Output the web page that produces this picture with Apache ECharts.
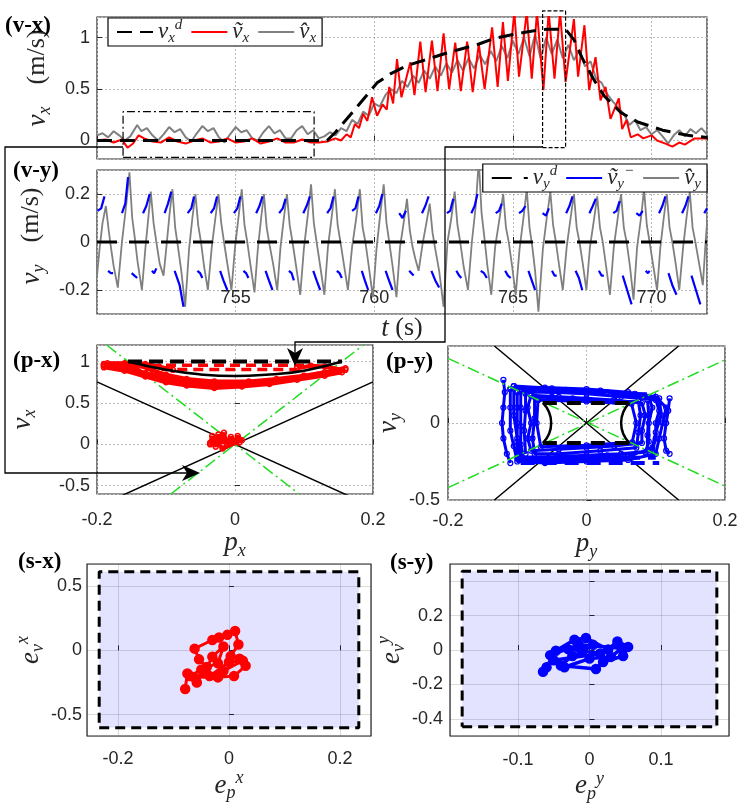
<!DOCTYPE html>
<html>
<head>
<meta charset="utf-8">
<script src="https://cdn.jsdelivr.net/npm/echarts@6/dist/echarts.min.js"></script>
<style>
html, body { margin: 0; padding: 0; background: #fff; }
#chart { width: 747px; height: 805px; }
</style>
</head>
<body>
<div id="chart"></div>
<script>
// ---- (v-x) desired / measured / estimated velocity, [t, v]
const vxDesired = [[750,0],[758.3,0],[758.6,0.08],[759.2,0.27],[759.7,0.43],[760.1,0.56],[760.6,0.65],[761.2,0.73],[761.8,0.78],[762.5,0.84],[763,0.88],[763.7,0.93],[764.3,0.99],[765,1.03],[765.6,1.06],[766.2,1.08],[766.9,1.08],[767.2,0.98],[767.5,0.8],[767.9,0.6],[768.3,0.43],[768.9,0.27],[769.5,0.18],[770.4,0.1],[771.3,0.05],[772,0.03]];
const vxMeas = [[750,0],[750.3,0.01],[750.6,-0.02],[750.9,0.01],[751.1,-0.07],[751.3,-0.03],[751.5,0.05],[751.7,0.02],[752,-0.01],[752.3,-0.02],[752.6,0.03],[752.9,-0.01],[753.2,-0.03],[753.5,0],[753.8,0.02],[754.1,-0.02],[754.4,-0.01],[754.7,0.02],[755,-0.02],[755.3,-0.01],[755.6,0.02],[755.9,-0.03],[756.2,-0.01],[756.5,0.02],[756.8,-0.02],[757.1,-0.02],[757.4,0.01],[757.7,-0.02],[758,-0.02],[758.3,-0.01],[758.6,0.02],[758.8,0.0],[759,0.06],[759.15,0.03],[759.3,0.16],[759.45,0.12],[759.6,0.26],[759.75,0.19],[759.92,0.42],[760.1,0.24],[760.3,0.35],[760.45,0.3],[760.54,0.52],[760.68,0.36],[760.82,0.79],[760.98,0.42],[761.3,0.76],[761.45,0.44],[761.66,0.96],[761.85,0.47],[762.08,0.97],[762.28,0.48],[762.5,1.04],[762.7,0.5],[762.92,0.95],[763.12,0.48],[763.35,0.96],[763.55,0.47],[763.77,0.94],[763.98,0.5],[764.25,1.1],[764.45,0.52],[764.64,1.15],[764.82,0.58],[765.05,1.25],[765.22,0.62],[765.5,1.25],[765.68,0.6],[765.87,1.25],[766.1,0.49],[766.29,1.25],[766.5,0.6],[766.7,1.25],[766.9,0.57],[767.2,1.18],[767.35,0.62],[767.58,1.12],[767.75,0.49],[767.98,0.81],[768.16,0.39],[768.34,0.52],[768.52,0.21],[768.82,0.41],[768.94,0.11],[769.1,0.2],[769.25,0.03],[769.5,0.06],[769.7,0.02],[770,0.05],[770.2,0.0],[770.5,-0.03],[770.75,-0.06],[771,-0.02],[771.2,-0.04],[771.55,0.02],[772,0.02]];
const vxEst = [[750,0.05],[750.2,0.07],[750.4,0.03],[750.6,0.09],[750.8,0.05],[751,0.0],[751.2,0.04],[751.45,0.15],[751.6,0.09],[751.8,0.12],[752,0.05],[752.2,0.0],[752.4,0.06],[752.6,0.13],[752.8,0.08],[753,0.11],[753.2,0.03],[753.4,-0.01],[753.6,0.07],[753.8,0.14],[754,0.09],[754.2,0.12],[754.4,0.03],[754.6,-0.02],[754.8,0.06],[755,0.13],[755.2,0.08],[755.4,0.1],[755.6,0.02],[755.8,0.0],[756,0.08],[756.2,0.14],[756.4,0.07],[756.6,0.1],[756.8,0.02],[757,0.02],[757.2,0.1],[757.4,0.14],[757.6,0.06],[757.8,0.1],[758,0.02],[758.2,0.04],[758.4,0.08],[758.6,0.05],[758.8,0.12],[759,0.09],[759.2,0.2],[759.4,0.16],[759.6,0.28],[759.8,0.24],[760,0.36],[760.2,0.33],[760.4,0.44],[760.6,0.5],[760.8,0.46],[761,0.58],[761.2,0.52],[761.4,0.63],[761.6,0.56],[761.8,0.68],[762,0.6],[762.2,0.72],[762.4,0.63],[762.6,0.75],[762.8,0.66],[763,0.78],[763.2,0.68],[763.4,0.8],[763.6,0.7],[763.8,0.83],[764,0.74],[764.2,0.87],[764.4,0.77],[764.6,0.92],[764.8,0.8],[765,0.97],[765.2,0.84],[765.4,1.0],[765.6,0.82],[765.8,1.03],[766,0.8],[766.2,1.0],[766.4,0.84],[766.6,0.98],[766.8,0.8],[767,0.93],[767.2,0.78],[767.4,0.88],[767.6,0.72],[767.8,0.77],[768,0.6],[768.2,0.56],[768.4,0.45],[768.6,0.38],[768.8,0.32],[769,0.26],[769.2,0.15],[769.4,0.2],[769.6,0.1],[769.8,0.13],[770,0.06],[770.2,0.1],[770.4,0.04],[770.6,-0.03],[770.8,0.05],[771,0.1],[771.2,0.04],[771.4,0.11],[771.6,0.07],[771.8,0.12],[772,0.06]];
// zoom boxes drawn on (v-x): [t0, t1, v0, v1]
const vxQuietBox = [750.94, 757.83, -0.165, 0.28];
const vxPeakBox = [766.07, 766.9, -0.07, 1.26];

// ---- (v-y)
const vyDesired = [[750,0],[772,0]];
const vyEst = [[750.0,-0.14],[750.1,-0.02],[750.2,0.08],[750.32,0.15],[750.42,0.05],[750.5,-0.02],[750.6,-0.1],[750.75,-0.19],
[750.9,0.0],[751.05,0.15],[751.17,0.29],[751.27,0.1],[751.36,0.02],[751.46,-0.08],[751.62,-0.2],
[751.75,-0.02],[751.85,0.1],[751.94,0.21],[752.04,0.08],[752.14,0.0],[752.26,-0.09],[752.4,-0.14],
[752.52,0.0],[752.62,0.12],[752.72,0.22],[752.82,0.06],[752.92,-0.02],[753.04,-0.12],[753.18,-0.27],
[753.32,-0.03],[753.44,0.1],[753.55,0.2],[753.65,0.07],[753.75,0.0],[753.86,-0.1],[754.0,-0.2],
[754.14,-0.02],[754.27,0.1],[754.38,0.2],[754.48,0.08],[754.58,0.0],[754.7,-0.09],[754.85,-0.2],
[754.98,-0.02],[755.1,0.1],[755.22,0.22],[755.32,0.07],[755.42,0.0],[755.54,-0.1],[755.68,-0.21],
[755.8,-0.03],[755.92,0.1],[756.02,0.2],[756.12,0.06],[756.22,-0.01],[756.35,-0.09],[756.5,-0.2],
[756.62,-0.02],[756.74,0.1],[756.85,0.2],[756.95,0.07],[757.05,0.0],[757.18,-0.1],[757.33,-0.22],
[757.46,-0.03],[757.6,0.11],[757.72,0.24],[757.82,0.08],[757.92,0.0],[758.05,-0.1],[758.2,-0.22],
[758.33,-0.02],[758.46,0.1],[758.58,0.22],[758.68,0.07],[758.78,0.0],[758.9,-0.09],[759.05,-0.2],
[759.2,-0.02],[759.35,0.1],[759.48,0.22],[759.58,0.06],[759.68,0.0],[759.8,-0.1],[759.95,-0.23],
[760.08,-0.03],[760.22,0.12],[760.34,0.24],[760.44,0.08],[760.54,0.0],[760.66,-0.1],[760.8,-0.23],
[760.93,-0.02],[761.06,0.08],[761.18,0.18],[761.28,0.05],[761.38,-0.02],[761.48,-0.07],[761.6,-0.12],
[761.74,-0.01],[761.88,0.08],[762.0,0.16],[762.1,0.04],[762.2,-0.03],[762.34,-0.12],[762.5,-0.27],
[762.64,0.0],[762.78,0.1],[762.9,0.21],[763.0,0.07],[763.1,0.0],[763.22,-0.1],[763.38,-0.2],
[763.52,0.0],[763.66,0.15],[763.77,0.34],[763.87,0.12],[763.97,0.02],[764.08,-0.1],[764.22,-0.22],
[764.36,-0.02],[764.52,0.1],[764.65,0.2],[764.75,0.06],[764.85,0.0],[764.97,-0.1],[765.1,-0.22],
[765.24,-0.03],[765.38,0.1],[765.5,0.22],[765.6,0.06],[765.7,-0.02],[765.8,-0.12],[765.92,-0.29],
[766.08,-0.03],[766.22,0.1],[766.35,0.21],[766.45,0.07],[766.55,0.0],[766.67,-0.1],[766.8,-0.2],
[766.94,-0.02],[767.08,0.1],[767.2,0.2],[767.3,0.06],[767.4,0.0],[767.52,-0.09],[767.65,-0.2],
[767.78,-0.02],[767.92,0.09],[768.04,0.19],[768.14,0.06],[768.24,0.0],[768.36,-0.1],[768.5,-0.22],
[768.64,-0.02],[768.78,0.1],[768.9,0.2],[769.0,0.06],[769.1,0.0],[769.22,-0.1],[769.35,-0.24],
[769.48,-0.02],[769.62,0.1],[769.73,0.22],[769.83,0.07],[769.93,0.0],[770.05,-0.09],[770.2,-0.2],
[770.32,-0.02],[770.44,0.1],[770.55,0.2],[770.65,0.06],[770.75,0.0],[770.87,-0.09],[771.0,-0.2],
[771.14,-0.02],[771.26,0.1],[771.38,0.21],[771.48,0.06],[771.58,0.0],[771.7,-0.08],[771.85,-0.18],
[771.95,0.0],[772,0.08]];
// the measured y-velocity only exists in short pieces
const vyMeasSegs = [
[[750.02,0.13],[750.15,0.14],[750.27,0.19]],[[750.4,-0.12],[750.5,-0.13],[750.58,-0.13]],
[[750.9,0.12],[751.02,0.16],[751.12,0.27]],[[751.25,-0.13],[751.35,-0.14],[751.45,-0.15]],
[[751.66,0.12],[751.78,0.15],[751.9,0.2]],[[751.98,-0.12],[752.06,-0.13],[752.14,-0.11]],
[[752.44,0.12],[752.56,0.16],[752.68,0.21]],[[752.8,-0.12],[752.98,-0.18],[753.12,-0.27]],
[[753.27,0.12],[753.4,0.14],[753.5,0.19]],[[753.62,-0.12],[753.72,-0.13],[753.8,-0.15]],
[[754.1,0.12],[754.22,0.14],[754.33,0.19]],[[754.44,-0.12],[754.56,-0.16],[754.7,-0.2]],
[[754.94,0.12],[755.06,0.14],[755.17,0.19]],[[755.28,-0.12],[755.38,-0.13],[755.46,-0.15]],
[[755.74,0.12],[755.86,0.15],[755.97,0.19]],[[756.08,-0.12],[756.2,-0.16],[756.33,-0.2]],
[[756.57,0.12],[756.7,0.14],[756.8,0.18]],[[756.92,-0.12],[757.02,-0.13],[757.1,-0.16]],
[[757.44,0.12],[757.56,0.15],[757.68,0.19]],[[757.8,-0.12],[757.92,-0.16],[758.05,-0.2]],
[[758.3,0.12],[758.42,0.14],[758.53,0.19]],[[758.65,-0.12],[758.75,-0.13],[758.83,-0.15]],
[[759.2,0.13],[759.32,0.14],[759.43,0.19]],[[759.55,-0.12],[759.66,-0.16],[759.78,-0.2]],
[[760.06,0.12],[760.18,0.15],[760.29,0.2]],[[760.41,-0.12],[760.53,-0.16],[760.66,-0.2]],
[[760.9,0.12],[761.02,0.1],[761.14,0.13]],[[761.26,-0.12],[761.34,-0.13],[761.42,-0.14]],
[[761.72,0.12],[761.84,0.15],[761.96,0.19]],[[762.06,-0.12],[762.2,-0.16],[762.34,-0.19]],
[[762.62,0.12],[762.74,0.13],[762.85,0.18]],[[762.96,-0.12],[763.06,-0.14],[763.14,-0.15]],
[[763.5,0.12],[763.62,0.15],[763.72,0.2]],[[763.84,-0.12],[763.96,-0.13],[764.06,-0.15]],
[[764.38,0.12],[764.5,0.13],[764.6,0.16]],[[764.72,-0.12],[764.82,-0.14],[764.92,-0.15]],
[[765.22,0.12],[765.34,0.13],[765.45,0.15]],[[765.56,-0.12],[765.68,-0.16],[765.8,-0.2]],
[[766.07,0.12],[766.19,0.11],[766.3,0.14]],[[766.41,-0.12],[766.5,-0.14],[766.58,-0.14]],
[[766.92,0.12],[767.04,0.15],[767.15,0.19]],[[767.26,-0.12],[767.38,-0.15],[767.5,-0.2]],
[[767.76,0.12],[767.88,0.15],[767.99,0.18]],[[768.1,-0.12],[768.2,-0.14],[768.28,-0.14]],
[[768.62,0.12],[768.74,0.13],[768.85,0.17]],[[768.96,-0.14],[769.12,-0.2],[769.28,-0.26]],
[[769.45,0.12],[769.57,0.11],[769.68,0.13]],[[769.79,-0.12],[769.87,-0.13],[769.93,-0.12]],
[[770.27,0.12],[770.39,0.15],[770.5,0.19]],[[770.61,-0.13],[770.75,-0.18],[770.9,-0.22]],
[[771.1,0.12],[771.22,0.15],[771.33,0.19]],[[771.44,-0.14],[771.6,-0.2],[771.76,-0.26]],
[[771.9,0.12],[772,0.14]]
];

// ---- (p-x) phase portrait
const pxBoundLines = [[[-0.2,0.755],[0.2,-0.755]], [[-0.2,-0.755],[0.2,0.755]]];
const pxSurfLines = [[[-0.186,1.2],[0.093,-0.6]], [[-0.093,-0.6],[0.186,1.2]]];
const pxRefTop = [[-0.155,1],[0.155,1]];
const pxRefCurve = [[-0.155,1],[-0.1,0.9],[-0.05,0.845],[0,0.825],[0.05,0.845],[0.1,0.89],[0.155,1]];
const pxRedPasses = [
[[-0.19,0.96],[-0.17,0.95],[-0.15,0.92],[-0.13,0.86],[-0.11,0.8],[-0.08,0.76],[-0.04,0.73],[0,0.73],[0.04,0.75],[0.08,0.79],[0.12,0.84],[0.15,0.88],[0.16,0.9]],
[[-0.19,0.93],[-0.16,0.89],[-0.13,0.82],[-0.1,0.75],[-0.07,0.71],[-0.03,0.68],[0.01,0.7],[0.05,0.73],[0.09,0.78],[0.13,0.83],[0.155,0.87]],
[[-0.185,0.98],[-0.16,0.97],[-0.14,0.95],[-0.12,0.9],[-0.1,0.84],[-0.07,0.79],[-0.03,0.76],[0.02,0.76],[0.06,0.79],[0.1,0.83],[0.13,0.87],[0.16,0.92]],
[[-0.19,0.95],[-0.165,0.93],[-0.14,0.88],[-0.115,0.83],[-0.09,0.78],[-0.06,0.74],[-0.02,0.72]],
[[-0.19,0.97],[-0.16,0.98],[-0.13,0.97],[-0.11,0.94],[-0.09,0.9]],
[[0.09,0.92],[0.11,0.95],[0.13,0.94],[0.155,0.9]],
[[-0.036,0.02],[-0.033,0.1],[-0.028,-0.03],[-0.024,0.12],[-0.02,0.04],[-0.016,0.14],[-0.012,0.0],[-0.006,0.09],[-0.002,0.03],[0.004,0.1],[0.01,0.05],[-0.018,-0.05],[-0.03,0.06],[-0.036,0.0],[-0.022,0.08],[-0.008,0.05],[0.006,0.02],[-0.026,0.03]]
];
const pxRedDash = [[[-0.1,0.955],[0.1,0.955]], [[-0.13,0.905],[0.09,0.905]]];

// ---- (p-y) phase portrait
const pyBoundLines = [[[-0.133,0.5],[0.133,-0.5]], [[-0.133,-0.5],[0.133,0.5]]];
const pySurfLines = [[[-0.2,0.42],[0.2,-0.41]], [[-0.2,-0.42],[0.2,0.41]]];
const pyRefFlat = [[[-0.063,0.13],[0.062,0.13]], [[-0.063,-0.13],[0.062,-0.13]]];
const pyRefArcs = [[[-0.063,0.13],[-0.054,0.07],[-0.051,0],[-0.054,-0.07],[-0.063,-0.13]], [[0.062,0.13],[0.053,0.07],[0.05,0],[0.053,-0.07],[0.062,-0.13]]];
const pyBluePasses = [
[[-0.1,0.2],[-0.05,0.2],[0,0.19],[0.05,0.17],[0.1,0.15],[0.105,0.08],[0.1,0],[0.1,-0.1],[0.095,-0.18],[0.05,-0.2],[0,-0.21],[-0.05,-0.22],[-0.095,-0.22],[-0.1,-0.12],[-0.1,0],[-0.1,0.1],[-0.1,0.2]],
[[-0.08,0.18],[-0.04,0.17],[0.0,0.16],[0.04,0.15],[0.08,0.13],[0.085,0.05],[0.08,-0.05],[0.08,-0.13],[0.04,-0.15],[0,-0.16],[-0.04,-0.17],[-0.08,-0.18],[-0.085,-0.1],[-0.08,0],[-0.085,0.1],[-0.08,0.18]],
[[-0.11,0.22],[-0.06,0.23],[0,0.22],[0.06,0.2],[0.1,0.17],[0.115,0.1],[0.11,0],[0.105,-0.1],[0.1,-0.2],[0.06,-0.24],[0,-0.25],[-0.06,-0.26],[-0.1,-0.25],[-0.105,-0.15],[-0.11,-0.05],[-0.11,0.1],[-0.11,0.22]],
[[-0.07,0.15],[0,0.14],[0.065,0.125],[0.072,0.0],[0.066,-0.125],[0,-0.145],[-0.066,-0.155],[-0.072,0],[-0.07,0.15]],
[[-0.095,0.21],[-0.03,0.215],[0.03,0.2],[0.09,0.17],[0.095,0.1],[0.09,0],[0.09,-0.12],[0.085,-0.19],[0.03,-0.21],[-0.03,-0.23],[-0.09,-0.24],[-0.095,-0.14],[-0.095,-0.02],[-0.095,0.1],[-0.095,0.21]],
[[-0.075,0.17],[-0.02,0.16],[0.04,0.14],[0.075,0.14],[0.078,0.05],[0.075,-0.06],[0.072,-0.16],[0.02,-0.18],[-0.04,-0.2],[-0.075,-0.2],[-0.078,-0.1],[-0.075,0.03],[-0.075,0.17]],
[[-0.105,0.24],[-0.05,0.225],[0.02,0.21],[0.07,0.19],[0.105,0.16],[0.108,0.05],[0.1,-0.06],[0.095,-0.16],[0.06,-0.22],[0.0,-0.23],[-0.06,-0.24],[-0.1,-0.23],[-0.1,-0.1],[-0.105,0.05],[-0.105,0.24]],
[[-0.088,0.19],[-0.088,0.08],[-0.09,-0.05],[-0.088,-0.2]],
[[0.088,0.15],[0.09,0.05],[0.088,-0.08],[0.088,-0.18]],
[[-0.12,0.28],[-0.118,0.2],[-0.12,0.1],[-0.122,0],[-0.12,-0.1],[-0.115,-0.2],[-0.11,-0.26]],
[[0.12,0.16],[0.118,0.08],[0.115,0],[0.112,-0.1],[0.115,-0.18],[0.12,-0.2]]
];
const pyBlueDash = [[[-0.095,-0.26],[0.105,-0.26]], [[-0.06,0.205],[0.1,0.185]], [[-0.07,-0.225],[0.1,-0.225]]];

// ---- (s-x), (s-y) sliding variables and bounds [p0, p1, v0, v1]
const sxBox = [-0.234, 0.234, -0.6, 0.61];
const sxPts = [[-0.079,-0.3],[-0.075,-0.18],[-0.058,-0.25],[-0.04,-0.13],[-0.054,-0.07],[-0.062,0.013],[-0.03,0.08],[-0.018,0.1],[-0.003,0.12],[0.011,0.15],[0.017,0.045],[0.003,-0.045],[0.019,-0.065],[0.03,-0.12],[0.009,-0.2],[-0.02,-0.21],[-0.045,-0.18],[-0.03,-0.05],[-0.01,0.03],[-0.02,-0.1],[-0.05,-0.15],[-0.07,-0.2],[-0.035,-0.2],[0.0,-0.09],[0.025,-0.08],[-0.01,-0.16],[-0.06,-0.22]];
const syBox = [-0.178, 0.178, -0.446, 0.458];
const syPts = [[-0.065,-0.126],[-0.06,-0.1],[-0.047,-0.004],[-0.021,0.06],[-0.005,0.07],[0.026,0.003],[0.039,0.05],[0.054,0.018],[0.047,-0.035],[0.019,-0.07],[0.009,-0.11],[-0.04,-0.09],[-0.024,-0.035],[-0.01,-0.01],[0.005,0.03],[-0.03,0.005],[0.015,-0.02],[-0.05,-0.06],[-0.035,-0.1],[0.0,-0.05],[0.03,-0.04],[0.045,0.01],[-0.015,0.03],[-0.055,-0.03]];

// ---------------------------------------------------------------
const INK = '#262626';
const SERIF = '"Liberation Serif", "Times New Roman", serif';
const SANS = '"Liberation Sans", Arial, sans-serif';
const RED = '#ff0000', BLUE = '#0000ff', GRAY = '#808080', GREEN = '#1fdc1f';
const GAP = ['-', '-'];

function joinPieces(pieces) {
    let out = [];
    pieces.forEach((p, i) => {
        if (i > 0) out.push(GAP);
        out = out.concat(p);
    });
    return out;
}
function boxPath(b) {
    return [[b[0], b[2]], [b[1], b[2]], [b[1], b[3]], [b[0], b[3]], [b[0], b[2]]];
}

function mathStyle(big, small, shift) {
    return {
        i: {fontFamily: SERIF, fontStyle: 'italic', fontSize: big, color: INK},
        sub: {fontFamily: SERIF, fontStyle: 'italic', fontSize: small, color: INK, padding: [shift, 0, 0, 0]},
        sup: {fontFamily: SERIF, fontStyle: 'italic', fontSize: small, color: INK, padding: [0, 0, shift, 0]},
        r: {fontFamily: SERIF, fontSize: big - 1, color: INK},
        gap: {width: 22}
    };
}
const legendRich = mathStyle(23, 15, 13);
const nameRich = mathStyle(27, 18, 15);

const grids = [
    {left: 97, top: 17, width: 610, height: 142},
    {left: 97, top: 170, width: 610, height: 144},
    {left: 97, top: 345, width: 276, height: 149},
    {left: 448, top: 346, width: 277, height: 154},
    {left: 87, top: 564, width: 284, height: 172},
    {left: 450, top: 564, width: 279, height: 172}
].map(g => Object.assign({show: true, borderColor: INK, borderWidth: 1.2, backgroundColor: 'transparent', containLabel: false, outerBoundsMode: 'none'}, g));

function axis(gi, min, max, o) {
    const dotted = o.solidGrid ? {color: 'rgba(30,30,40,0.16)', width: 1, type: 'solid'} : {color: '#b8b8b8', width: 1, type: [2, 2]};
    return {
        type: 'value', gridIndex: gi, min: min, max: max,
        interval: o.interval, splitNumber: o.splitNumber,
        name: o.name || '', nameLocation: 'middle', nameGap: o.nameGap || 30,
        nameTextStyle: {fontFamily: SERIF, fontSize: 26, color: INK, rich: nameRich, padding: o.namePad || 0},
        axisLine: {show: false},
        axisTick: {show: true, inside: true, length: 5, lineStyle: {color: INK, width: 1}},
        axisLabel: {
            show: o.labels !== false, inside: !!o.inside, margin: o.margin || 8,
            color: INK, fontFamily: SANS, fontSize: 18,
            showMinLabel: !!o.showMin, showMaxLabel: !!o.showMax,
            formatter: o.formatter
        },
        splitLine: {show: true, lineStyle: dotted}
    };
}

const xAxes = [
    axis(0, 750, 772, {interval: 5, labels: false}),
    axis(1, 750, 772, {interval: 5, inside: true, margin: 7, name: '{i|t} {r|(s)}', nameGap: 1}),
    axis(2, -0.2, 0.2, {interval: 0.2, margin: 17, showMin: true, showMax: true, name: '{i|p}{sub|x}', nameGap: 24}),
    axis(3, -0.2, 0.2, {interval: 0.2, margin: 12, showMin: true, showMax: true, name: '{i|p}{sub|y}', nameGap: 23}),
    axis(4, -0.256, 0.256, {splitNumber: 3, margin: 14, solidGrid: true, name: '{i|e}{sub|p}{sup|x}', nameGap: 33}),
    axis(5, -0.195, 0.195, {splitNumber: 3, margin: 15, solidGrid: true, name: '{i|e}{sub|p}{sup|y}', nameGap: 33})
];
const yAxes = [
    axis(0, -0.18, 1.2, {splitNumber: 3, margin: 7, name: '{i|v}{sub|x}{gap|}{r|(m/s)}', nameGap: 42, namePad: [0, 0, 0, 20]}),
    axis(1, -0.3, 0.3, {splitNumber: 3, margin: 7, name: '{i|v}{sub|y}{gap|}{r|(m/s)}', nameGap: 45, namePad: [0, 0, 0, 12]}),
    axis(2, -0.6, 1.2, {splitNumber: 4, margin: 7, name: '{i|v}{sub|x}', nameGap: 58}),
    axis(3, -0.5, 0.5, {interval: 0.5, margin: 8, showMin: true, name: '{i|v}{sub|y}', nameGap: 34}),
    axis(4, -0.665, 0.67, {splitNumber: 3, margin: 5, solidGrid: true, name: '{i|e}{sub|v}{sup|x}', nameGap: 34}),
    axis(5, -0.5, 0.5, {splitNumber: 5, margin: 7, solidGrid: true, name: '{i|e}{sub|v}{sup|y}', nameGap: 42,
        formatter: v => (Math.abs(v - 0.4) < 1e-6 ? '' : String(+v.toFixed(2)))})
];

function line(gi, data, color, width, type, extra) {
    return Object.assign({
        type: 'line', xAxisIndex: gi, yAxisIndex: gi, data: data,
        symbol: 'none', showSymbol: false, connectNulls: false,
        lineStyle: {color: color, width: width, type: type || 'solid'},
        itemStyle: {color: color}, silent: true, animation: false, z: 2
    }, extra || {});
}
function marked(gi, data, color, width, size, bw, fill) {
    return line(gi, data, color, width, 'solid', {
        symbol: 'circle', showSymbol: true, symbolSize: size,
        itemStyle: {color: fill ? color : 'rgba(0,0,0,0)', borderColor: color, borderWidth: bw}
    });
}

const DASH_DOT = [12, 4, 2, 4];
const series = [
    // (v-x)
    line(0, vxEst, GRAY, 2, 'solid', {name: 'vxh'}),
    line(0, vxMeas, RED, 2, 'solid', {name: 'vxt'}),
    line(0, vxDesired, '#000', 3, [15, 8], {name: 'vxd', z: 3}),
    line(0, boxPath(vxQuietBox), '#000', 1.2, [8, 3, 2, 3], {clip: false, z: 4}),
    line(0, boxPath(vxPeakBox), '#000', 1.2, [4, 2], {clip: false, z: 4}),
    // (v-y)
    line(1, vyEst, GRAY, 1.8, 'solid', {name: 'vyh'}),
    line(1, joinPieces(vyMeasSegs), BLUE, 2.2, 'solid', {name: 'vyt'}),
    line(1, vyDesired, '#000', 3, [20, 12], {name: 'vyd', z: 3}),
    // (p-x)
    line(2, joinPieces(pxBoundLines), '#000', 1.5),
    line(2, joinPieces(pxSurfLines), GREEN, 1.5, DASH_DOT),
    marked(2, joinPieces(pxRedPasses), RED, 4, 5, 1.5),
    line(2, joinPieces(pxRedDash), RED, 3.5, [10, 6]),
    line(2, pxRefTop, '#000', 4, [14, 7], {z: 4}),
    line(2, pxRefCurve, '#000', 2.5, 'solid', {smooth: true, z: 4}),
    // (p-y)
    line(3, joinPieces(pyBoundLines), '#000', 1.5),
    marked(3, joinPieces(pyBluePasses), BLUE, 3, 5, 1.2),
    line(3, joinPieces(pyBlueDash), BLUE, 4, [14, 8]),
    line(3, joinPieces(pySurfLines), GREEN, 1.5, DASH_DOT, {z: 4}),
    line(3, joinPieces(pyRefFlat), '#000', 4, [14, 10], {z: 4}),
    line(3, joinPieces(pyRefArcs), '#000', 2.5, 'solid', {smooth: true, z: 4}),
    // (s-x), (s-y): bounds box then trajectory
    line(4, boxPath(sxBox), '#000', 3, [10, 6], {
        z: 3,
        markArea: {silent: true, itemStyle: {color: 'rgba(0,0,255,0.11)'},
            data: [[{coord: [sxBox[0], sxBox[2]]}, {coord: [sxBox[1], sxBox[3]]}]]}
    }),
    marked(4, sxPts, RED, 3, 9, 1.5, true),
    line(5, boxPath(syBox), '#000', 3, [10, 6], {
        z: 3,
        markArea: {silent: true, itemStyle: {color: 'rgba(0,0,255,0.11)'},
            data: [[{coord: [syBox[0], syBox[2]]}, {coord: [syBox[1], syBox[3]]}]]}
    }),
    marked(5, syPts, BLUE, 3.5, 9, 1.5, true)
];

const legendNames = {
    vxd: '{i|v}{sub|x}{sup|d}', vxt: '{i|ṽ}{sub|x}', vxh: '{i|v̂}{sub|x}',
    vyd: '{i|v}{sub|y}{sup|d}', vyt: '{i|ṽ}{sub|y}{sup|−}', vyh: '{i|v̂}{sub|y}'
};
function legendBox(names, pos) {
    return Object.assign({
        data: names, selectedMode: false, orient: 'horizontal',
        backgroundColor: '#fff', borderColor: '#000', borderWidth: 1.2, borderRadius: 0,
        padding: [0, 6, 0, 8], itemGap: 8, itemWidth: 36, itemHeight: 12,
        itemStyle: {opacity: 0},
        formatter: n => legendNames[n],
        textStyle: {fontFamily: SERIF, fontSize: 22, color: INK, rich: legendRich}
    }, pos);
}

const panelLabels = [
    ['(v-x)', 5, 26], ['(v-y)', 13, 171], ['(p-x)', 13, 361],
    ['(p-y)', 386, 362], ['(s-x)', 18, 562], ['(s-y)', 390, 563]
];

const graphic = panelLabels.map(p => ({
    type: 'text', x: p[1], y: p[2], z: 100,
    style: {text: p[0], font: 'bold 23px ' + SERIF, fill: '#000', verticalAlign: 'middle'}
})).concat([
    {type: 'polyline', z: 100, shape: {points: [[123, 147], [5, 147], [5, 473], [188, 473]]},
        style: {stroke: '#000', lineWidth: 1.3, fill: null}},
    {type: 'polygon', z: 100, shape: {points: [[200, 473], [182, 465], [187, 473], [182, 481]]},
        style: {fill: '#000'}},
    {type: 'polyline', z: 100, shape: {points: [[542, 147], [445, 147], [445, 342], [295, 342], [295, 354]]},
        style: {stroke: '#000', lineWidth: 1.3, fill: null}},
    {type: 'polygon', z: 100, shape: {points: [[295, 366], [287, 348], [295, 353], [303, 348]]},
        style: {fill: '#000'}}
]);

const chart = echarts.init(document.getElementById('chart'), null, {renderer: 'canvas'});
chart.setOption({
    animation: false,
    backgroundColor: '#fff',
    textStyle: {fontFamily: SANS},
    grid: grids,
    xAxis: xAxes,
    yAxis: yAxes,
    legend: [
        legendBox(['vxd', 'vxt', 'vxh'], {left: 108, top: 18, height: 31}),
        legendBox(['vyd', 'vyt', 'vyh'], {right: 40, top: 164, height: 33})
    ],
    series: series,
    graphic: graphic
});
</script>
</body>
</html>
